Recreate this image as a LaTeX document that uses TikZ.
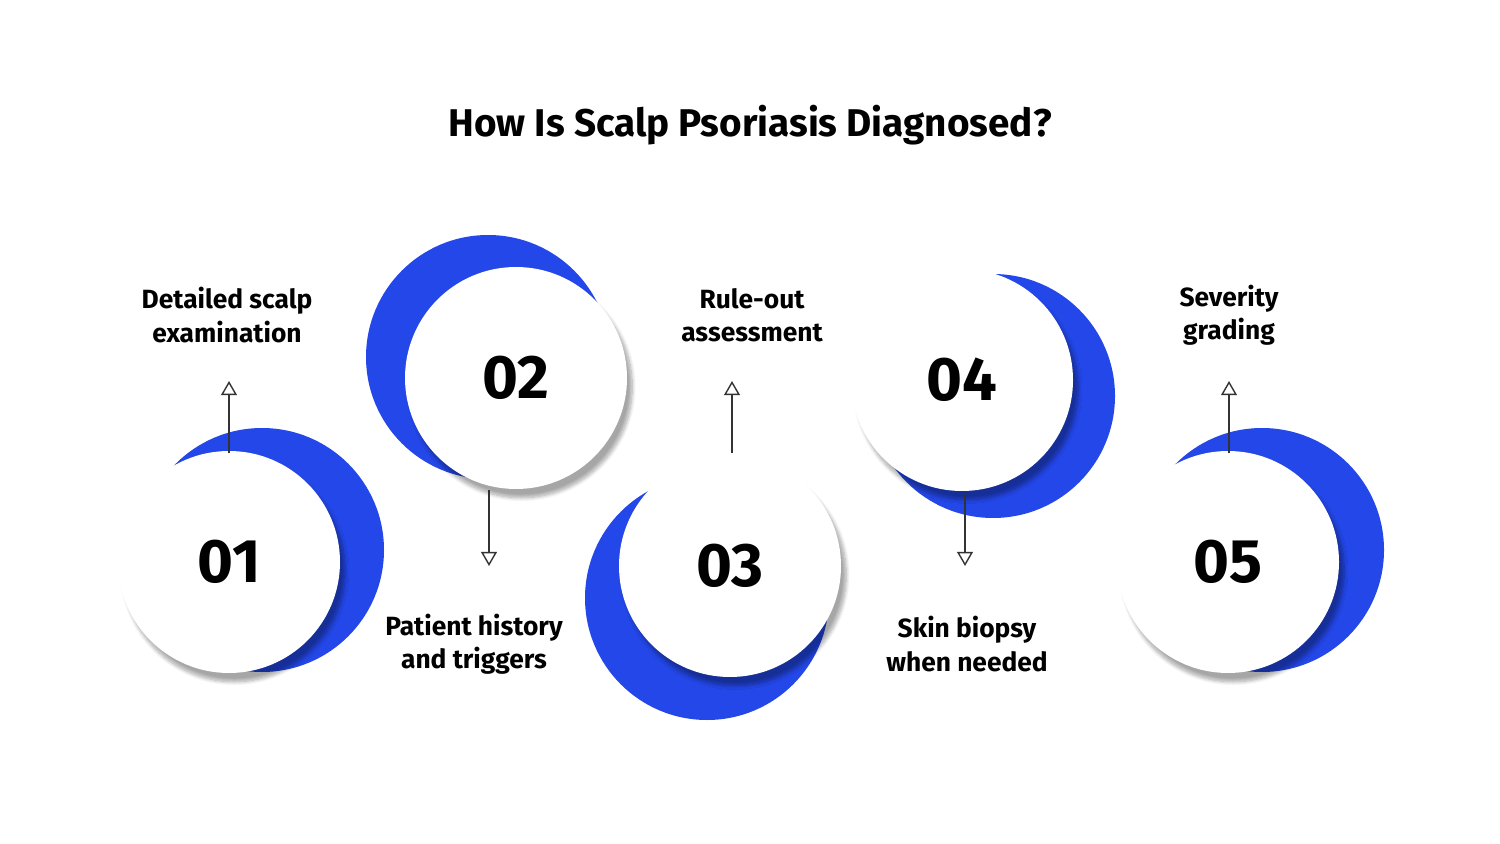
\documentclass[tikz,border=0pt]{standalone}
\usepackage{fontspec}
\setmainfont{Fira Sans}
\usetikzlibrary{shadows.blur,arrows.meta}
\definecolor{bl}{HTML}{2347E8}
\begin{document}
\begin{tikzpicture}[x=0.02cm,y=-0.02cm,
  bluec/.style={fill=bl,circle,minimum size=244*0.02cm,inner sep=0},
  whitec/.style={fill=white,circle,minimum size=222*0.02cm,inner sep=0,font=\fontsize{35}{40}\selectfont\bfseries,
    blur shadow={shadow xshift=3pt,shadow yshift=-5pt,shadow blur steps=8,shadow opacity=35}},
  lbl/.style={align=center,font=\fontsize{15}{19}\selectfont\bfseries},
  arr/.style={draw=black!80,line width=0.8pt,-{Triangle[open,length=8pt,width=9pt]}}]
\useasboundingbox (0,0) rectangle (1500,844);
\node[font=\fontsize{22}{26}\selectfont\bfseries] (title) at (750,125) {How Is Scalp Psoriasis Diagnosed?};
\node[bluec] (b1) at (262,550) {};
\node[bluec] (b2) at (488,357) {};
\node[bluec] (b3) at (707,598) {};
\node[bluec] (b4) at (993,396) {};
\node[bluec] (b5) at (1262,550) {};
\node[whitec] (w1) at (229,562) {01};
\node[whitec] (w2) at (516,378) {02};
\node[whitec] (w3) at (730,566) {03};
\node[whitec] (w4) at (962,380) {04};
\node[whitec] (w5) at (1228,562) {05};
\node[lbl] (l1) at (227,315) {Detailed scalp\\examination};
\node[lbl] (l2) at (474,644) {Patient history\\and triggers};
\node[lbl] (l3) at (752,315) {Rule-out\\assessment};
\node[lbl] (l4) at (967,644) {Skin biopsy\\when needed};
\node[lbl] (l5) at (1229,315) {Severity\\grading};
\coordinate (a1) at (229,453); \coordinate (t1) at (229,381);
\coordinate (a2) at (489,490); \coordinate (t2) at (489,566);
\coordinate (a3) at (732,453); \coordinate (t3) at (732,381);
\coordinate (a4) at (965,493); \coordinate (t4) at (965,566);
\coordinate (a5) at (1229,453); \coordinate (t5) at (1229,381);
\foreach \i in {1,...,5} \draw[arr] (a\i) -- (t\i);
\end{tikzpicture}
\end{document}
